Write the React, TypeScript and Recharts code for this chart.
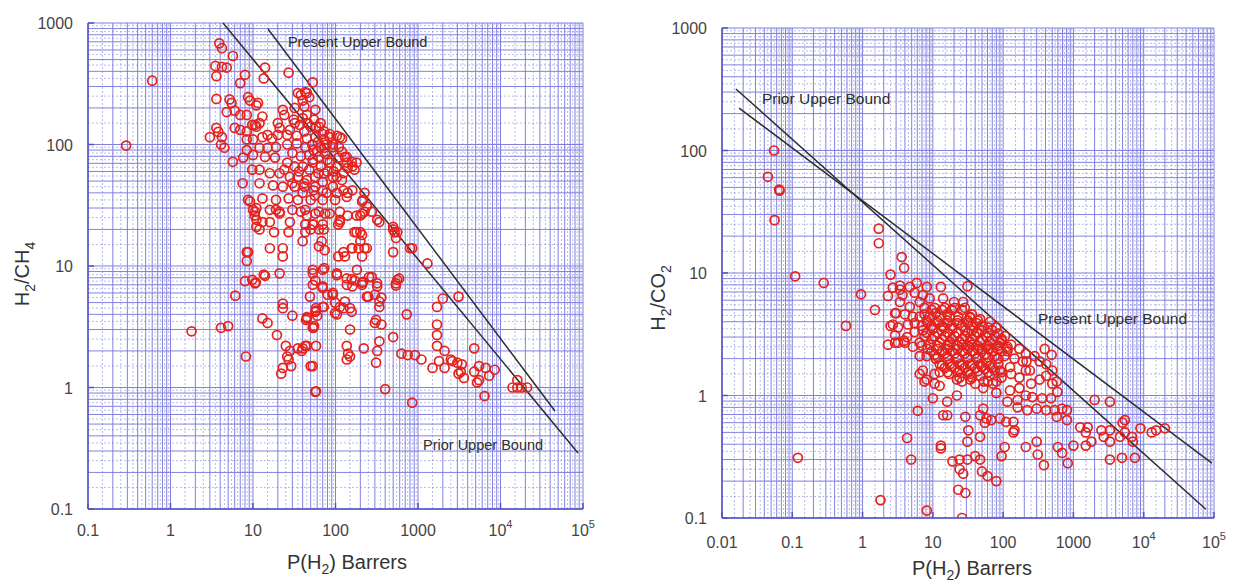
import { ScatterChart, Scatter, XAxis, YAxis, CartesianGrid, ReferenceLine, ReferenceDot } from "recharts";

const FONT = '"Liberation Sans", Arial, Helvetica, sans-serif';
const GRID = "#7474de";
const AXIS = "#5252c4";
const RED = "#e3231c";
const INK = "#2e2e2e";

// decade labels on each axis
const ch4XDecades = [0.1, 1, 10, 100, 1000, 1e4, 1e5];
const co2XDecades = [0.01, 0.1, 1, 10, 100, 1000, 1e4, 1e5];
const yDecades = [0.1, 1, 10, 100, 1000];

// H2/CH4: [P(H2) in Barrers, selectivity]
const ch4Sparse = [
    [0.29, 98], [0.6, 335], [1.8, 2.9], [4.1, 3.1], [5, 3.2], [8.2, 1.8], [6.1, 5.7], [13, 3.7], [15, 3.4],
    [19.5, 2.7], [23, 4.5], [30, 3.9], [25, 2.2], [28, 2.0], [26, 1.8], [23, 1.45], [22, 1.3], [29, 1.5],
    [39, 2.0], [45, 2.2], [50, 1.5], [57, 0.92], [44, 3.6], [53, 3.1], [57, 4.2], [27, 1.7], [58, 2.2],
];
const ch4Top = [
    [3.9, 680], [4.2, 620], [5.7, 535], [3.5, 443], [4.8, 430], [3.6, 365], [8, 375], [7, 320], [14, 430],
    [13.5, 350], [27, 390], [53, 325], [3.6, 237], [5.2, 235], [8.7, 245], [11, 210], [6, 190], [8.4, 175],
    [13, 170], [10.6, 145], [3.0, 115], [3.8, 127], [4.1, 100], [5.7, 72], [7.5, 48], [8.7, 35], [10.6, 28],
    [13, 23], [8.4, 13], [16, 14], [23, 12], [8, 7.5], [10.8, 7.3], [13.5, 8.5], [21, 8.7], [53, 9.3],
    [4.2, 435], [35, 265], [45, 265], [40, 230], [57, 193], [32, 200], [23, 193], [5.5, 220], [9.2, 230],
    [11.5, 220], [4.8, 185], [7, 175], [9.8, 145], [11, 140], [12, 150], [6, 137], [7, 132], [8.4, 128],
    [3.6, 137], [4.2, 115], [4.5, 94], [8.4, 110], [10, 110], [13, 115], [17, 112], [21, 137], [20, 120],
    [28, 132], [32, 150], [40, 165], [50, 140], [42, 128], [63, 140], [57, 115], [73, 128], [85, 115],
    [113, 115], [93, 100], [73, 94], [54, 90], [43, 95], [34, 102], [26, 100], [19, 95], [15, 94], [12, 94],
];
const ch4Core = [
    [8.4, 90], [7.6, 78], [10, 82], [14, 79], [18.5, 78], [26, 71], [32, 66], [40, 66], [53, 71], [66, 66],
    [85, 71], [108, 78], [130, 79], [137, 71], [160, 66], [125, 58], [104, 54], [73, 58], [57, 54], [45, 51],
    [35, 54], [28, 54], [21, 58], [16, 58], [12, 62], [9.8, 62], [12, 48], [17.5, 46], [23, 45], [32, 45],
    [42, 45], [54, 42], [70, 42], [93, 45], [125, 42], [160, 42], [225, 40], [210, 34], [137, 37], [99, 35],
    [70, 35], [50, 35], [35, 35], [27, 36], [19, 35], [13, 36], [9.2, 34], [11, 30], [16, 29], [21, 28],
    [30, 29], [43, 29], [63, 28], [85, 27], [113, 28], [140, 26], [200, 26], [275, 28], [320, 24], [11, 24],
    [16, 23], [28, 23], [43, 22], [53, 22], [70, 22], [108, 22], [43, 270], [38, 255], [48, 245], [42, 205],
    [45, 175], [58, 140], [70, 122], [85, 122], [104, 118], [120, 112], [73, 110], [66, 95], [93, 95],
    [120, 87], [137, 79], [157, 72], [180, 71], [170, 62], [140, 64], [104, 66], [80, 75], [63, 79], [53, 75],
    [93, 54], [120, 51], [70, 49], [57, 45], [42, 48], [104, 40], [140, 40], [215, 35], [240, 31], [210, 27],
    [113, 24], [170, 19], [200, 19], [157, 14], [190, 14], [240, 14], [340, 23], [500, 21], [520, 19],
    [540, 17], [500, 13], [850, 14], [1300, 10.5], [130, 12],
    [24, 175], [31, 160], [37, 145], [46, 150], [55, 160], [66, 150], [26, 120], [34, 118], [45, 112],
    [52, 100], [61, 105], [78, 100], [30, 85], [38, 80], [48, 82], [60, 88], [75, 84], [24, 62], [36, 60],
    [48, 62], [62, 58], [80, 60], [30, 48], [40, 40], [56, 38], [78, 40], [95, 60], [110, 95], [20, 150],
    [15, 120],
];
const ch4Mid = [
    [53, 8.7], [70, 9.3], [104, 8.7], [137, 7.9], [170, 7.6], [215, 7.4], [255, 8.1], [320, 7.2], [540, 7.2],
    [590, 7.9], [9.8, 7.7], [10.6, 7.2], [14, 8.3], [23, 4.9], [40, 2.1], [53, 1.5], [58, 0.93], [45, 3.7],
    [55, 3.2], [60, 3.9], [49, 5.6], [58, 4.5], [72, 4.6], [57, 7.6], [73, 9.6], [104, 8.4], [70, 6.6],
    [80, 5.8], [93, 6], [99, 5], [113, 4.6], [130, 5.1], [150, 4.5], [104, 4], [137, 7], [157, 7.8],
    [182, 9.3], [210, 7], [240, 5.6], [275, 8.1], [300, 5.8], [360, 5.5], [340, 4.6], [310, 3.6], [360, 3.3],
    [560, 7.7], [540, 6.9], [730, 4], [500, 2.6], [340, 2.4], [220, 2.1], [137, 2.2], [142, 1.9], [137, 1.7],
    [310, 1.6], [400, 0.97], [850, 0.75], [630, 1.9], [750, 1.85], [920, 1.85], [1100, 1.7], [1500, 1.45],
    [1700, 3.3], [1700, 2.7], [1700, 2.2], [2000, 5.4], [1700, 4.6], [2100, 2.0], [2500, 1.7], [3000, 1.6],
    [3400, 1.55], [2600, 1.65], [3100, 5.6], [3300, 1.35], [3600, 1.2], [4800, 1.35], [5200, 1.1], [800, 14],
    [500, 20], [560, 19], [180, 26], [225, 28], [113, 23], [180, 19], [210, 18], [200, 16], [160, 14],
    [225, 14], [210, 12], [125, 13], [108, 12], [74, 13.5], [63, 14.5], [68, 16], [72, 20], [63, 20], [54, 22],
    [50, 20], [43, 19], [40, 16], [45, 26], [38, 28], [57, 27], [75, 27], [27, 19], [18, 19], [12, 20],
    [11, 21], [10.5, 26], [10, 29], [21, 27], [19, 29], [23, 14], [8.7, 13], [8.4, 11],
];
const ch4Tail = [
    [53, 7], [70, 6.8], [93, 5.8], [160, 6.8], [210, 7.3], [250, 5.6], [320, 6.8], [340, 5.1], [45, 3.8],
    [58, 4.3], [70, 4.6], [99, 4.1], [125, 4.5], [157, 4.2], [54, 3.1], [35, 2.1], [43, 2.2], [150, 3.0],
    [150, 1.8], [300, 3.4], [320, 2.0], [1800, 1.65], [2100, 1.45], [3100, 1.3], [4800, 2.1], [5500, 1.15],
    [5500, 1.5], [6600, 1.45], [7300, 1.25], [8500, 1.4], [6400, 0.85], [14000, 1.0], [16000, 1.0],
    [16000, 1.15], [18000, 1.0], [21000, 1.0],
];

// H2/CO2
const co2Sparse = [
    [0.055, 100], [0.045, 61], [0.065, 48], [0.066, 47], [0.056, 27], [0.11, 9.4], [0.28, 8.3], [1.7, 23],
    [1.7, 17.5], [3.6, 13.5], [3.9, 11], [2.5, 9.7], [0.95, 6.7], [0.58, 3.7], [1.5, 5.0], [2.3, 2.6],
    [2.9, 2.7], [3.9, 2.8], [0.12, 0.31], [1.8, 0.14], [8.2, 0.115], [4.3, 0.45], [4.9, 0.30], [6.1, 0.75],
    [10, 0.95], [2.7, 3.8], [3.4, 7.3], [4.7, 7.7], [2.3, 6.5], [3.0, 4.7], [6.5, 2.1], [7.2, 1.6],
    [8.2, 1.35], [10.6, 1.25],
];
const co2Core = [
    [3.4, 7.9], [2.7, 7.6], [5.9, 8.3], [3.7, 6.6], [5.5, 6.9], [7.2, 6.6], [13, 7.7], [14, 6.2], [31, 7.8],
    [20, 5.8], [27, 5.8], [3.4, 5.8], [4.7, 5.3], [6.5, 5.8], [9, 6.2], [2.9, 4.7], [4.0, 4.6], [5.2, 4.4],
    [7.6, 4.6], [11, 4.7], [16, 4.6], [23, 4.4], [36, 4.6], [47, 4.2], [65, 4.0], [80, 3.6], [2.5, 3.7],
    [3.2, 3.6], [4.4, 3.8], [2.9, 3.1], [4.3, 3.0], [5.5, 3.3], [7.2, 3.4], [4.0, 2.7], [5.2, 2.5], [10, 3.5],
    [14, 3.6], [19, 3.5], [29, 3.4], [42, 3.3], [58, 3.0], [95, 2.9], [130, 2.6], [170, 2.4], [210, 2.2],
    [280, 2.1], [330, 1.9], [410, 1.8], [500, 1.6], [9, 2.6], [12.5, 2.7], [17, 2.6], [26, 2.6], [36, 2.6],
    [50, 2.4], [72, 2.3], [105, 2.1], [145, 2.0], [190, 1.9], [8.2, 2.1], [11, 2.0], [16, 2.1], [22, 2.0],
    [31, 2.0], [42, 2.0], [58, 1.85], [85, 1.8], [125, 1.7], [12.5, 1.55], [17, 1.5], [24, 1.6], [34, 1.5],
    [47, 1.45], [65, 1.45], [95, 1.4], [6.5, 1.5], [8.2, 7.7], [34, 4.3], [42, 3.9], [90, 2.7], [115, 2.5],
    [215, 1.9], [240, 1.6], [390, 2.4], [490, 2.15],
];
const co2Dense = [
    [7.6, 5.2], [10.6, 5.2], [14.8, 5.2], [20.5, 5.2], [28.5, 5.2], [6.5, 4.4], [9, 4.4], [12.5, 4.4],
    [17.4, 4.4], [33.6, 4.4], [5.5, 3.9], [8.4, 3.9], [11.7, 3.9], [16.2, 3.9], [22.5, 3.9], [31.5, 3.9],
    [13.5, 3.4], [36, 3.4], [50, 3.4], [70, 3.4], [7.6, 3.05], [10.6, 3.05], [14.8, 3.05], [20.5, 3.05],
    [28.5, 3.05], [39.6, 3.05], [76, 3.05], [106, 3.05], [6.5, 2.7], [17.4, 2.75], [24, 2.75], [33.6, 2.75],
    [46.6, 2.75], [65, 2.75], [8.4, 2.4], [11.7, 2.4], [16.2, 2.4], [22.5, 2.4], [31.5, 2.4], [43.5, 2.4],
    [61, 2.4], [85, 2.4], [115, 2.4], [10.6, 2.15], [14.8, 2.2], [20.5, 2.2], [28.5, 2.2], [39.6, 2.2],
    [55, 2.15], [76, 2.1], [12.5, 1.8], [17.4, 1.8], [24, 1.8], [33.6, 1.8], [46.6, 1.8], [65, 1.75],
    [90, 1.6], [14.8, 1.68], [20.5, 1.68], [28.5, 1.68], [39.6, 1.68], [55, 1.65], [76, 1.6], [24, 1.4],
    [36, 1.4], [53, 1.3], [80, 1.3],
    [9.6, 5.0], [13.5, 5.0], [18.6, 5.0], [26, 5.0], [8.2, 4.1], [11.7, 4.1], [16.2, 4.1], [22.5, 4.1],
    [31.5, 4.1], [43.5, 4.1], [7.0, 3.7], [9.6, 3.7], [13.5, 3.7], [18.6, 3.7], [26, 3.7], [36, 3.7],
    [50, 3.7], [61, 3.6], [8.2, 3.25], [11.7, 3.25], [16.2, 3.25], [22.5, 3.25], [31.5, 3.25], [43.5, 3.25],
    [61, 3.25], [85, 3.2], [9.6, 2.9], [13.5, 2.9], [18.6, 2.9], [26, 2.9], [36, 2.9], [50, 2.85],
    [70, 2.85], [95, 2.8], [7.0, 2.55], [11.7, 2.55], [16.2, 2.55], [22.5, 2.55], [31.5, 2.55], [43.5, 2.55],
    [61, 2.55], [85, 2.55], [115, 2.3], [9.6, 2.3], [13.5, 2.3], [18.6, 2.3], [26, 2.3], [36, 2.3],
    [50, 2.3], [70, 2.3], [95, 2.3], [11.7, 2.05], [16.2, 2.0], [22.5, 2.05], [31.5, 2.05], [43.5, 2.05],
    [61, 2.05], [85, 2.0], [13.5, 1.75], [18.6, 1.72], [26, 1.75], [36, 1.75], [50, 1.72], [70, 1.7],
    [16.2, 1.55], [22.5, 1.55], [31.5, 1.55], [43.5, 1.58], [61, 1.55], [26, 1.3], [40, 1.25], [61, 1.3],
];
const co2Tail = [
    [3.2, 2.7], [7.6, 1.3], [10.6, 1.5], [12.5, 1.2], [16, 0.89], [22, 1.0], [22, 1.35], [34, 1.35],
    [32, 1.55], [52, 1.15], [72, 1.25], [80, 1.05], [125, 1.1], [170, 1.15], [250, 1.25], [330, 1.35],
    [410, 1.45], [500, 1.25], [580, 1.3], [210, 1.6], [130, 1.5], [95, 1.55], [170, 1.4], [210, 1.0],
    [260, 0.97], [360, 0.95], [480, 0.95], [160, 0.92], [115, 0.89], [160, 0.8], [220, 0.76], [300, 0.78],
    [410, 0.76], [540, 0.76], [690, 0.78], [810, 0.76], [580, 0.67], [810, 0.63], [52, 0.78], [47, 0.69],
    [58, 0.65], [68, 0.63], [90, 0.65], [110, 0.61], [140, 0.61], [145, 0.52], [140, 0.5], [47, 0.46],
    [29, 0.67], [32, 0.52], [55, 0.6], [31, 0.42], [16, 0.69], [13, 0.39], [13, 0.37], [19, 0.29], [24, 0.3],
    [31, 0.3], [24, 0.25], [27, 0.23], [23, 0.17], [29, 0.16], [26, 0.1], [40, 0.32], [47, 0.3], [50, 0.24],
    [60, 0.22], [80, 0.2], [95, 0.32], [105, 0.38], [210, 0.38], [300, 0.42], [310, 0.33], [380, 0.27],
    [690, 0.34], [830, 0.28], [600, 0.38], [1000, 0.39], [1500, 0.39], [1500, 0.5], [1250, 0.55],
    [1600, 0.55], [2500, 0.52], [3300, 0.52], [2700, 0.46], [3300, 0.42], [4600, 0.46], [5400, 0.5],
    [6800, 0.46], [7000, 0.42], [5400, 0.63], [9000, 0.54], [13000, 0.5], [15000, 0.52], [20000, 0.54],
    [1800, 0.42], [3300, 0.3], [4900, 0.31], [7500, 0.31], [2000, 0.92], [3300, 0.89], [5000, 0.6],
    [590, 1.07], [14, 0.69],
];

// upper bound lines, end points
const ch4Prior = [[4.33, 1000], [87000, 0.289]];
const ch4Present = [[15.2, 893], [45700, 0.641]];
const co2Prior = [[0.0158, 318], [76700, 0.118]];
const co2Present = [[0.0175, 222], [93300, 0.281]];

const toPoints = (...groups: number[][][]) => groups.flat().map(([x, y]) => ({ x, y }));
const ch4Data = toPoints(ch4Sparse, ch4Top, ch4Core, ch4Mid, ch4Tail);
const co2Data = toPoints(co2Sparse, co2Core, co2Dense, co2Tail);

// 1..9 in each decade for the log grid
function logTicks(decades: number[]) {
    const out: number[] = [];
    decades.forEach((d, i) => {
        if (i === decades.length - 1) {
            out.push(d);
            return;
        }
        for (let k = 1; k <= 9; k++) out.push(+(d * k).toPrecision(6));
    });
    return out;
}
// the dotted in-between lines
function halfTicks(decades: number[]) {
    const out: number[] = [];
    decades.slice(0, -1).forEach((d) => {
        for (let k = 1.5; k < 10; k += 1) out.push(+(d * k).toPrecision(6));
    });
    return out;
}

const tickText = { fontFamily: FONT, fontSize: 16, fill: "#444" };

function DecadeText({ x, y, v, anchor }: { x: number; y: number; v: number; anchor: "start" | "middle" | "end" }) {
    const exp = Math.round(Math.log10(v));
    if (exp >= 4) {
        return (
            <text x={x} y={y} textAnchor={anchor} {...tickText}>
                10<tspan dy={-8} fontSize={11}>{exp}</tspan>
            </text>
        );
    }
    return (
        <text x={x} y={y} textAnchor={anchor} {...tickText}>
            {String(v)}
        </text>
    );
}

const bottomTick = (decades: number[], drop: number) => (p: any) => {
    const v = p.payload.value;
    if (!decades.includes(v)) return <g />;
    return (
        <g>
            <line x1={p.x} x2={p.x} y1={p.y} y2={p.y - 6} stroke={AXIS} strokeWidth={1.5} />
            <DecadeText x={p.x} y={p.y + drop} v={v} anchor="middle" />
        </g>
    );
};
const topTick = (decades: number[]) => (p: any) =>
    decades.includes(p.payload.value) ? <line x1={p.x} x2={p.x} y1={p.y} y2={p.y + 6} stroke={AXIS} strokeWidth={1.5} /> : <g />;
const leftTick = (p: any) => {
    const v = p.payload.value;
    if (!yDecades.includes(v)) return <g />;
    return (
        <g>
            <line x1={p.x} x2={p.x + 6} y1={p.y} y2={p.y} stroke={AXIS} strokeWidth={1.5} />
            <DecadeText x={p.x - 15} y={p.y + 6} v={v} anchor="end" />
        </g>
    );
};
const rightTick = (p: any) =>
    yDecades.includes(p.payload.value) ? <line x1={p.x} x2={p.x - 6} y1={p.y} y2={p.y} stroke={AXIS} strokeWidth={1.5} /> : <g />;

const ring = (p: any) => <circle cx={p.cx} cy={p.cy} r={4.5} fill="none" stroke={RED} strokeWidth={1.7} />;

function boundLabel(text: string, size: number) {
    return (p: any) => (
        <text x={p.cx} y={p.cy + 5} fontFamily={FONT} fontSize={size} fill={INK}>
            {text}
        </text>
    );
}

type PanelProps = {
    width: number;
    margin: { top: number; right: number; bottom: number; left: number };
    xDecades: number[];
    data: { x: number; y: number }[];
    prior: number[][];
    present: number[][];
    labels: { at: number[]; text: string }[];
    labelSize: number;
    tickDrop: number;
};

function Panel({ width, margin, xDecades, data, prior, present, labels, labelSize, tickDrop }: PanelProps) {
    const xDomain = [xDecades[0], xDecades[xDecades.length - 1]];
    const yDomain = [yDecades[0], yDecades[yDecades.length - 1]];
    const xTicks = logTicks(xDecades);
    const yTicks = logTicks(yDecades);
    return (
        <ScatterChart width={width} height={586} margin={margin}>
            <CartesianGrid stroke={GRID} strokeOpacity={0.9} />
            {halfTicks(xDecades).map((v) => (
                <ReferenceLine key={"hx" + v} x={v} stroke={GRID} strokeOpacity={0.5} strokeDasharray="2 2" />
            ))}
            {halfTicks(yDecades).map((v) => (
                <ReferenceLine key={"hy" + v} y={v} stroke={GRID} strokeOpacity={0.5} strokeDasharray="2 2" />
            ))}
            <XAxis
                type="number"
                dataKey="x"
                scale="log"
                domain={xDomain}
                allowDataOverflow
                ticks={xTicks}
                interval={0}
                height={40}
                tickSize={0}
                tickMargin={0}
                tickLine={false}
                axisLine={{ stroke: AXIS, strokeWidth: 1.5 }}
                tick={bottomTick(xDecades, tickDrop)}
            />
            <XAxis
                xAxisId="top"
                orientation="top"
                type="number"
                scale="log"
                domain={xDomain}
                allowDataOverflow
                ticks={xTicks}
                interval={0}
                height={0}
                tickSize={0}
                tickMargin={0}
                tickLine={false}
                axisLine={{ stroke: AXIS, strokeWidth: 1.5 }}
                tick={topTick(xDecades)}
            />
            <YAxis
                type="number"
                dataKey="y"
                scale="log"
                domain={yDomain}
                allowDataOverflow
                ticks={yTicks}
                interval={0}
                width={60}
                tickSize={0}
                tickMargin={0}
                tickLine={false}
                axisLine={{ stroke: AXIS, strokeWidth: 1.5 }}
                tick={leftTick}
            />
            <YAxis
                yAxisId="right"
                orientation="right"
                type="number"
                scale="log"
                domain={yDomain}
                allowDataOverflow
                ticks={yTicks}
                interval={0}
                width={0}
                tickSize={0}
                tickMargin={0}
                tickLine={false}
                axisLine={{ stroke: AXIS, strokeWidth: 1.5 }}
                tick={rightTick}
            />
            <Scatter data={data} shape={ring} isAnimationActive={false} />
            {[prior, present].map((seg, i) => (
                <ReferenceLine
                    key={"b" + i}
                    segment={[{ x: seg[0][0], y: seg[0][1] }, { x: seg[1][0], y: seg[1][1] }]}
                    stroke={INK}
                    strokeWidth={1.5}
                    ifOverflow="visible"
                />
            ))}
            {labels.map((l) => (
                <ReferenceDot key={l.text} x={l.at[0]} y={l.at[1]} r={0} shape={boundLabel(l.text, labelSize)} />
            ))}
        </ScatterChart>
    );
}

const titleStyle = { fontFamily: FONT, fontSize: 20, fill: "#333" };

export default function App() {
    return (
        <div style={{ position: "absolute", left: 0, top: 0, width: 1242, height: 586, background: "#fff" }}>
            <div style={{ position: "absolute", left: 0, top: 0 }}>
                <Panel
                    width={620}
                    margin={{ top: 23, right: 37, bottom: 37, left: 28 }}
                    xDecades={ch4XDecades}
                    data={ch4Data}
                    prior={ch4Prior}
                    present={ch4Present}
                    labels={[
                        { at: [26.5, 700], text: "Present Upper Bound" },
                        { at: [1150, 0.336], text: "Prior Upper Bound" },
                    ]}
                    labelSize={14.5}
                    tickDrop={27}
                />
            </div>
            <div style={{ position: "absolute", left: 620, top: 0 }}>
                <Panel
                    width={622}
                    margin={{ top: 28, right: 28, bottom: 28, left: 42 }}
                    xDecades={co2XDecades}
                    data={co2Data}
                    prior={co2Prior}
                    present={co2Present}
                    labels={[
                        { at: [0.037, 263], text: "Prior Upper Bound" },
                        { at: [313, 4.2], text: "Present Upper Bound" },
                    ]}
                    labelSize={15.5}
                    tickDrop={30}
                />
            </div>
            <svg width={1242} height={586} style={{ position: "absolute", left: 0, top: 0, pointerEvents: "none" }}>
                <text x={347} y={569} textAnchor="middle" {...titleStyle}>
                    P(H<tspan dy={5} fontSize={14}>2</tspan>
                    <tspan dy={-5}>) Barrers</tspan>
                </text>
                <text x={972} y={575} textAnchor="middle" {...titleStyle}>
                    P(H<tspan dy={5} fontSize={14}>2</tspan>
                    <tspan dy={-5}>) Barrers</tspan>
                </text>
                <text x={29} y={274} textAnchor="middle" transform="rotate(-90 29 274)" {...titleStyle}>
                    H<tspan dy={6} fontSize={14}>2</tspan>
                    <tspan dy={-6}>/CH</tspan>
                    <tspan dy={6} fontSize={14}>4</tspan>
                </text>
                <text x={665} y={298} textAnchor="middle" transform="rotate(-90 665 298)" {...titleStyle}>
                    H<tspan dy={6} fontSize={14}>2</tspan>
                    <tspan dy={-6}>/CO</tspan>
                    <tspan dy={6} fontSize={14}>2</tspan>
                </text>
            </svg>
        </div>
    );
}
